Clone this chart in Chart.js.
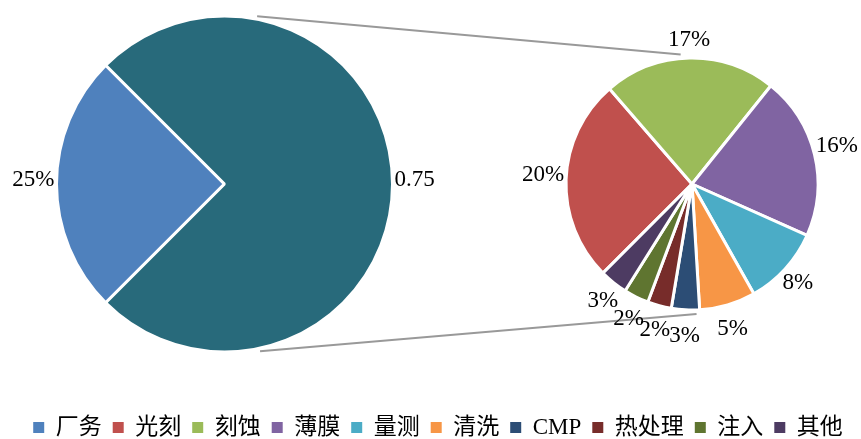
<!DOCTYPE html>
<html>
<head>
<meta charset="utf-8">
<style>
  body { margin: 0; background: #fff; }
  #wrap { position: relative; width: 861px; height: 439px; overflow: hidden; }
  canvas { position: absolute; }
  #legend { left: 0; top: 0; z-index: 0; }
  #main { left: 0; top: 0; z-index: 1; }
  #detail { left: 500px; top: 0; z-index: 1; }
</style>
<script src="https://cdn.jsdelivr.net/npm/chart.js"></script>
</head>
<body>
<div id="wrap">
  <canvas id="legend" width="861" height="449"></canvas>
  <canvas id="main" width="449" height="368"></canvas>
  <canvas id="detail" width="361" height="368"></canvas>
</div>
<script>
// data
var categories = ['厂务', '光刻', '刻蚀', '薄膜', '量测', '清洗', 'CMP', '热处理', '注入', '其他']
var mainLabels = ['厂务', '设备合计']
var mainValues = [0.25, 0.75]
var detailLabels = ['光刻', '刻蚀', '薄膜', '量测', '清洗', 'CMP', '热处理', '注入', '其他']
var detailValues = [0.196, 0.166, 0.157, 0.076, 0.054, 0.027, 0.023, 0.024, 0.027]

// colours
var mainColors = ['#4f81bd', '#286a7b']
var detailColors = ['#c0504d', '#9bbb59', '#8064a2', '#4bacc6', '#f79646', '#2c4d75', '#772c2a', '#5f7530', '#4d3b62']
var legendColors = [mainColors[0]].concat(detailColors)

function pct(v) { return Math.round(v * 100) + '%' }

var labelFont = '23px "Liberation Serif", "Times New Roman", serif'

// labels just outside each slice
var outsideLabels = {
  id: 'outsideLabels',
  afterDatasetsDraw: function (chart) {
    var ctx = chart.ctx
    var ds = chart.data.datasets[0]
    ctx.save()
    ctx.font = labelFont
    ctx.fillStyle = '#000'
    ctx.textAlign = 'center'
    ctx.textBaseline = 'middle'
    chart.getDatasetMeta(0).data.forEach(function (arc, i) {
      var text = ds.labelTexts[i]
      var a = (arc.startAngle + arc.endAngle) / 2
      var c = Math.cos(a), s = Math.sin(a)
      var w = ctx.measureText(text).width
      var r = arc.outerRadius + 2
      var x = arc.x + r * c + (w / 2) * c
      var y = arc.y + r * s + (20 + 8 * s) * s - 4
      ctx.fillText(text, x, y)
    })
    ctx.restore()
  }
}

function pieOptions(rotation, radius, padding) {
  return {
    responsive: false,
    animation: false,
    events: [],
    rotation: rotation,
    radius: radius,
    layout: { padding: padding },
    plugins: { legend: { display: false }, tooltip: { enabled: false } }
  }
}

var mainChart = new Chart(document.getElementById('main'), {
  type: 'pie',
  data: {
    labels: mainLabels,
    datasets: [{
      data: mainValues,
      labelTexts: [pct(mainValues[0]), String(mainValues[1])],
      backgroundColor: mainColors,
      borderColor: '#fff',
      borderWidth: 3
    }]
  },
  options: pieOptions(225, 168, 0),
  plugins: [outsideLabels]
})

var detailChart = new Chart(document.getElementById('detail'), {
  type: 'pie',
  data: {
    labels: detailLabels,
    datasets: [{
      data: detailValues,
      labelTexts: detailValues.map(pct),
      backgroundColor: detailColors,
      borderColor: '#fff',
      borderWidth: 3
    }]
  },
  options: pieOptions(225, 126, { left: 23 }),
  plugins: [outsideLabels]
})

// grey lines joining the two pies (angles in degrees on each circle)
var connectorAngles = [[-79, -95], [78, 88]]
var connectors = {
  id: 'connectors',
  afterDraw: function (chart) {
    var ctx = chart.ctx
    var m = mainChart.getDatasetMeta(0).data[0]
    var d = detailChart.getDatasetMeta(0).data[0]
    var mc = mainChart.canvas, dc = detailChart.canvas
    ctx.save()
    ctx.strokeStyle = '#999'
    ctx.lineWidth = 2
    connectorAngles.forEach(function (pair) {
      var a = pair[0] * Math.PI / 180, b = pair[1] * Math.PI / 180
      ctx.beginPath()
      ctx.moveTo(mc.offsetLeft + m.x + (m.outerRadius + 3) * Math.cos(a), mc.offsetTop + m.y + (m.outerRadius + 3) * Math.sin(a))
      ctx.lineTo(dc.offsetLeft + d.x + (d.outerRadius + 4) * Math.cos(b), dc.offsetTop + d.y + (d.outerRadius + 4) * Math.sin(b))
      ctx.stroke()
    })
    ctx.restore()
  }
}

var legendChart = new Chart(document.getElementById('legend'), {
  type: 'pie',
  data: { labels: categories, datasets: [{ data: [] }] },
  options: {
    responsive: false,
    animation: false,
    events: [],
    layout: { padding: { left: 15 } },
    plugins: {
      tooltip: { enabled: false },
      legend: {
        position: 'bottom',
        labels: {
          boxWidth: 11,
          boxHeight: 11,
          padding: 11,
          color: '#333',
          font: { size: 23, family: '"Liberation Serif", "Noto Sans CJK SC", serif' },
          generateLabels: function () {
            return categories.map(function (name, i) {
              return { text: name, fillStyle: legendColors[i], strokeStyle: legendColors[i], lineWidth: 0, hidden: false, index: i }
            })
          }
        }
      }
    }
  },
  plugins: [connectors]
})
</script>
</body>
</html>
